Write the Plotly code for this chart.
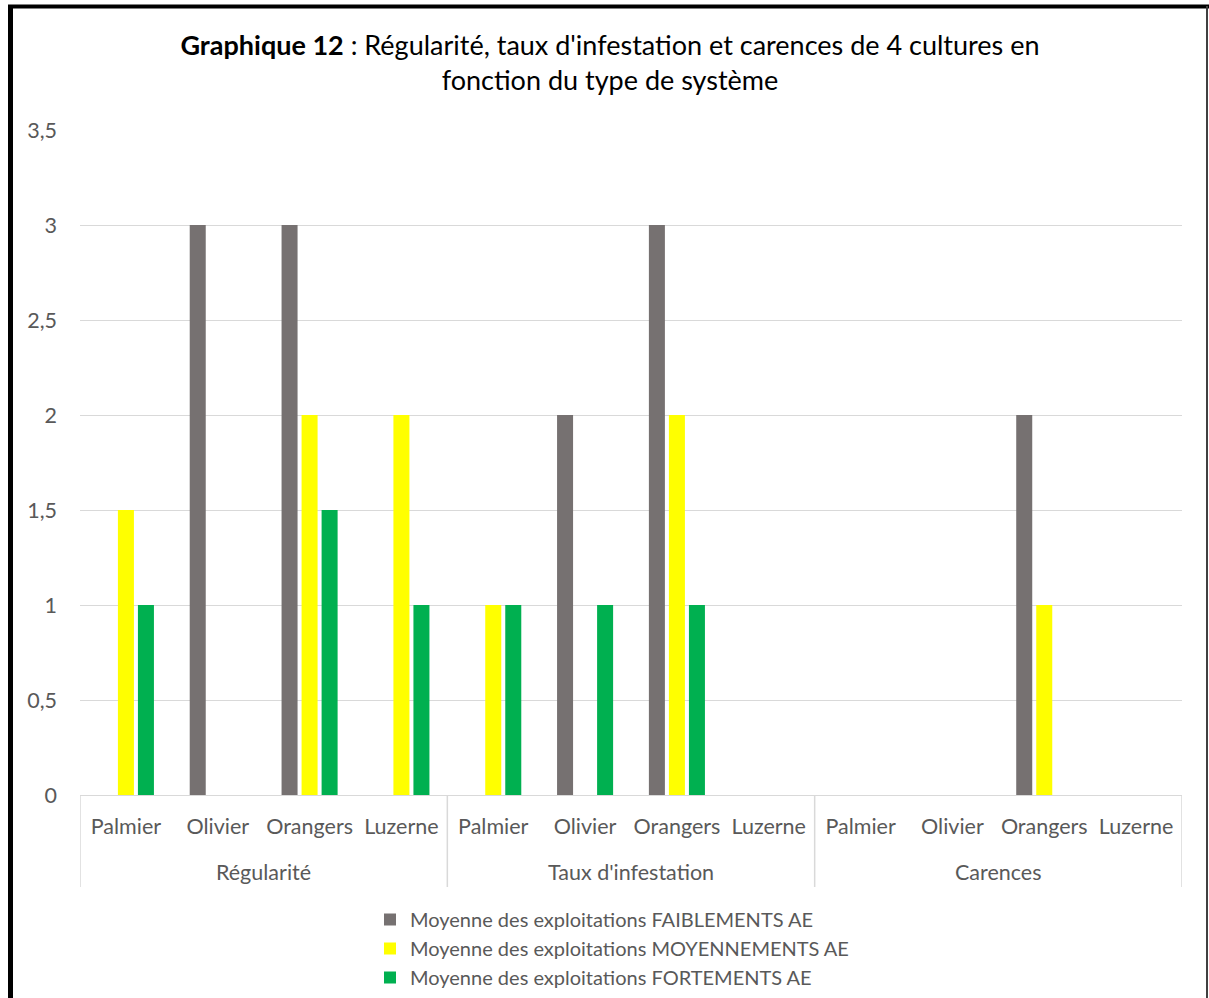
import plotly.graph_objects as go

# Data
groups = ["Régularité", "Taux d'infestation", "Carences"]
crops = ["Palmier", "Olivier", "Orangers", "Luzerne"]

series_names = [
    "Moyenne des exploitations FAIBLEMENTS AE",
    "Moyenne des exploitations MOYENNEMENTS AE",
    "Moyenne des exploitations FORTEMENTS AE",
]
faiblement = [0, 3, 3, 0, 0, 2, 3, 0, 0, 0, 2, 0]
moyennement = [1.5, 0, 2, 2, 1, 0, 2, 0, 0, 0, 1, 0]
fortement = [1, 0, 1.5, 1, 1, 1, 1, 0, 0, 0, 0, 0]
colors = ["#767171", "#FFFF00", "#00B050"]

y_ticks = [0, 0.5, 1, 1.5, 2, 2.5, 3, 3.5]
y_tick_labels = ["0", "0,5", "1", "1,5", "2", "2,5", "3", "3,5"]

title_text = ("<b>Graphique 12</b> : Régularité, taux d'infestation et carences de 4 cultures en"
              "<br>fonction du type de système")

# One slot per (group, crop) pair on a numeric axis; crop names become tick labels
n_crops = len(crops)
positions = list(range(len(groups) * n_crops))
crop_labels = [c for _ in groups for c in crops]

FONT = "Lato"
GREY_TXT = "#595959"
AXIS_GREY = "#D9D9D9"
TICK_SIZE = 21.5
LEGEND_SIZE = 20

fig = go.Figure()
for name, vals, col in zip(series_names, [faiblement, moyennement, fortement], colors):
    fig.add_trace(go.Bar(
        x=positions, y=vals, name=name,
        marker=dict(color=col, line=dict(width=0)),
    ))

W, H = 1209, 998
ml, mr, mt, mb = 80, 27, 130, 203
pw, ph = W - ml - mr, H - mt - mb


def px_x(x):
    return (x - ml) / pw


def px_y(y):
    return (H - mb - y) / ph


fig.update_layout(
    width=W, height=H,
    margin=dict(l=ml, r=mr, t=mt, b=mb, autoexpand=False),
    paper_bgcolor="white", plot_bgcolor="white",
    font=dict(family=FONT, color=GREY_TXT, size=TICK_SIZE),
    title=dict(text=title_text, x=610 / W, xanchor="center", xref="container",
               y=1 - 55 / H, yanchor="middle", yref="container",
               font=dict(family=FONT, size=27, color="#000000")),
    barmode="group", bargap=0.346, bargroupgap=0.2,
    showlegend=True,
    legend=dict(orientation="v", x=px_x(612), xanchor="center", y=px_y(900), yanchor="top",
                font=dict(family=FONT, size=LEGEND_SIZE, color=GREY_TXT),
                itemsizing="constant", tracegroupgap=0, bgcolor="rgba(0,0,0,0)"),
    yaxis=dict(range=[0, 3.5], tickvals=y_ticks, ticktext=y_tick_labels,
               showgrid=True, gridcolor=AXIS_GREY, gridwidth=1,
               zeroline=False, showline=False, ticks="", ticklabelstandoff=22,
               tickfont=dict(family=FONT, size=TICK_SIZE, color=GREY_TXT)),
    xaxis=dict(range=[-0.5, len(positions) - 0.5], tickvals=positions, ticktext=crop_labels,
               showline=True, linecolor=AXIS_GREY, linewidth=1,
               ticks="", showgrid=False, zeroline=False, ticklabelstandoff=12,
               tickfont=dict(family=FONT, size=TICK_SIZE, color=GREY_TXT)),
)

# Group labels and the separators between groups
for gi, g in enumerate(groups):
    centre = gi * n_crops + (n_crops - 1) / 2
    fig.add_annotation(x=centre, xref="x", y=px_y(872), yref="paper",
                       text=g, showarrow=False, yanchor="middle",
                       font=dict(family=FONT, size=TICK_SIZE, color=GREY_TXT))
for gi in range(len(groups) + 1):
    xb = gi * n_crops - 0.5
    fig.add_shape(type="line", xref="x", yref="paper",
                  x0=xb, x1=xb, y0=0, y1=px_y(887),
                  line=dict(color=AXIS_GREY, width=1.5))

# Chart frame
fig.add_shape(type="line", xref="paper", yref="paper",
              x0=px_x(10.5), x1=px_x(10.5), y0=px_y(5), y1=px_y(1010),
              line=dict(color="black", width=5))
fig.add_shape(type="line", xref="paper", yref="paper",
              x0=px_x(8), x1=px_x(1215), y0=px_y(6.5), y1=px_y(6.5),
              line=dict(color="black", width=4))
fig.add_shape(type="line", xref="paper", yref="paper",
              x0=px_x(1207), x1=px_x(1207), y0=px_y(6), y1=px_y(1010),
              line=dict(color="#404040", width=2))

fig.write_html("out.html")
